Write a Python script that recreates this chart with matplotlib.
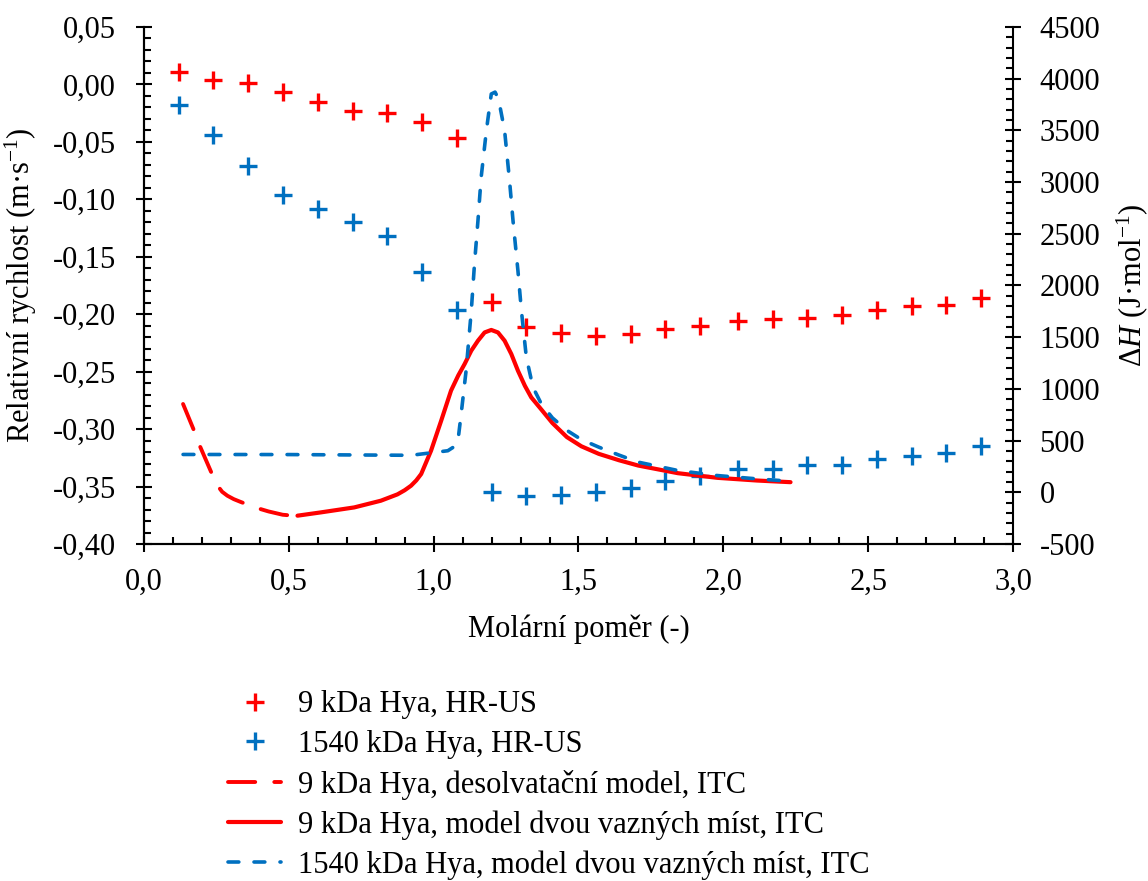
import matplotlib
matplotlib.use("Agg")
import matplotlib.pyplot as plt
from matplotlib.ticker import MultipleLocator, FuncFormatter

# molar ratio of HR-US points
ratio_us = [0.12, 0.24, 0.36, 0.48, 0.60, 0.72, 0.84, 0.96, 1.08, 1.20, 1.32, 1.44,
            1.56, 1.68, 1.80, 1.92, 2.05, 2.17, 2.29, 2.41, 2.53, 2.65, 2.77, 2.89]
# relative sound velocity (m/s)
vel_9k = [0.011, 0.004, 0.001, -0.007, -0.015, -0.023, -0.025, -0.033, -0.047, -0.189,
          -0.211, -0.216, -0.219, -0.217, -0.213, -0.210, -0.206, -0.204, -0.203, -0.201,
          -0.196, -0.193, -0.192, -0.186]
vel_1540k = [-0.018, -0.044, -0.071, -0.096, -0.108, -0.120, -0.132, -0.163, -0.196, -0.355,
             -0.358, -0.357, -0.355, -0.351, -0.345, -0.341, -0.335, -0.335, -0.331, -0.331,
             -0.326, -0.323, -0.321, -0.315]

# ITC, 9 kDa, desolvation model
desolv_x = [0.135, 0.173, 0.190, 0.231, 0.254, 0.270, 0.288, 0.310, 0.332, 0.383, 0.430, 0.479, 0.50]
desolv_h = [854, 596, 467, 202, 64, 5, -33, -66, -91, -146, -185, -217, -222]

# ITC, 9 kDa, two binding sites model
two9_x = [0.53, 0.611, 0.726, 0.818, 0.875, 0.900, 0.922, 0.940, 0.957, 0.991, 1.026,
          1.060, 1.085, 1.107, 1.130, 1.153, 1.176, 1.199, 1.222, 1.245, 1.268, 1.291,
          1.315, 1.337, 1.372, 1.41, 1.46, 1.51, 1.57, 1.64, 1.706, 1.843, 1.98,
          2.116, 2.232]
two9_h = [-226, -194, -146, -81, -20, 20, 64, 115, 177, 402, 692,
          983, 1130, 1241, 1370, 1466, 1546, 1570, 1546, 1466, 1338, 1176,
          1030, 918, 800, 670, 534, 445, 372, 310, 259, 185, 140,
          114, 98]

# ITC, 1540 kDa, two binding sites model
two1540_x = [0.135, 0.5, 0.922, 1.049, 1.070, 1.084, 1.095, 1.112, 1.130, 1.141, 1.153, 1.164,
             1.182, 1.199, 1.212, 1.224, 1.245, 1.262, 1.274, 1.291, 1.303, 1.320, 1.343,
             1.372, 1.41, 1.46, 1.51, 1.57, 1.64, 1.706, 1.843, 1.98, 2.116, 2.232]
two1540_h = [366, 365, 358, 402, 440, 499, 757, 1176, 1756, 2208, 2627, 3045,
             3497, 3852, 3870, 3804, 3497, 3014, 2627, 2143, 1756, 1305, 1015,
             854, 720, 599, 510, 437, 360, 292, 211, 162, 130, 107]

RED = "#ff0000"
BLUE = "#0070c0"

plt.rcParams['font.family'] = ['Liberation Serif', 'DejaVu Serif']
plt.rcParams['font.size'] = 22
plt.rcParams['mathtext.fontset'] = 'custom'
plt.rcParams['mathtext.rm'] = 'Liberation Serif'
plt.rcParams['mathtext.it'] = 'Liberation Serif:italic'


def comma(fmt):
    return FuncFormatter(lambda v, p: fmt.format(v).replace('.', ','))


fig = plt.figure(figsize=(11.48, 8.81), dpi=100)
ax = fig.add_axes([0.1254, 0.3825, 0.7570, 0.5869])
ax2 = ax.twinx()

ms = 13
mew = 2.4
p1, = ax.plot(ratio_us, vel_9k, ls='none', marker='+', ms=ms, mew=mew, color=RED)
p2, = ax.plot(ratio_us, vel_1540k, ls='none', marker='+', ms=ms, mew=mew, color=BLUE)

l1, = ax2.plot(desolv_x, desolv_h, color=RED, lw=2.8, dashes=(7, 4.9),
               dash_capstyle='round', solid_joinstyle='round')
l2, = ax2.plot(two9_x, two9_h, color=RED, lw=3.0, solid_capstyle='round',
               solid_joinstyle='round')
l3, = ax2.plot(two1540_x, two1540_h, color=BLUE, lw=2.6, dashes=(3, 4.2),
               dash_capstyle='round', dash_joinstyle='round')

ax.set_xlim(0, 3.0)
ax.set_ylim(-0.40, 0.05)
ax2.set_ylim(-500, 4500)

ax.xaxis.set_major_locator(MultipleLocator(0.5))
ax.xaxis.set_minor_locator(MultipleLocator(0.1))
ax.yaxis.set_major_locator(MultipleLocator(0.05))
ax.yaxis.set_minor_locator(MultipleLocator(0.01))
ax2.yaxis.set_major_locator(MultipleLocator(500))
ax2.yaxis.set_minor_locator(MultipleLocator(100))
ax.xaxis.set_major_formatter(comma("{:.1f}"))
ax.yaxis.set_major_formatter(comma("{:.2f}"))
ax2.yaxis.set_major_formatter(FuncFormatter(lambda v, p: "{:.0f}".format(v)))

for a in (ax, ax2):
    a.spines['top'].set_visible(False)
    for s in a.spines.values():
        s.set_linewidth(1.5)
ax.spines['right'].set_visible(False)

ax.tick_params(axis='x', which='major', direction='inout', length=12, width=1.5, pad=11)
ax.tick_params(axis='x', which='minor', direction='in', length=5, width=1.5)
ax.tick_params(axis='y', which='major', direction='inout', length=12, width=1.5, pad=14)
ax.tick_params(axis='y', which='minor', direction='in', length=5, width=1.5)
ax2.tick_params(axis='y', which='major', direction='inout', length=12, width=1.5, pad=13)
ax2.tick_params(axis='y', which='minor', direction='in', length=5, width=1.5)

ax.set_xlabel("Molární poměr (-)", labelpad=13)
ax.set_ylabel("Relativní rychlost (m·s$^{-1}$)", labelpad=10)
ax2.set_ylabel("Δ$\\mathit{H}$ (J·mol$^{-1}$)", rotation=90, labelpad=10)

fig.legend([p1, p2, l1, l2, l3],
           ["9 kDa Hya, HR-US",
            "1540 kDa Hya, HR-US",
            "9 kDa Hya, desolvatační model, ITC",
            "9 kDa Hya, model dvou vazných míst, ITC",
            "1540 kDa Hya, model dvou vazných míst, ITC"],
           loc='upper left', bbox_to_anchor=(0.1986, 0.2165), frameon=False,
           borderpad=0, borderaxespad=0, handlelength=1.75, handletextpad=0.55,
           labelspacing=0.35, fontsize=22)

fig.savefig("out.png", dpi=100)
